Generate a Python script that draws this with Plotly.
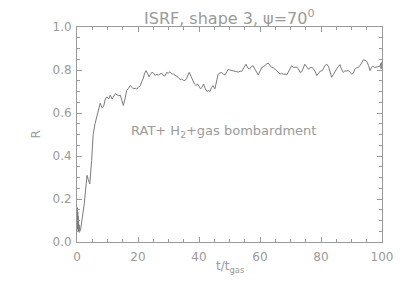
import plotly.graph_objects as go

# time in units of t_gas
t_vals = [0.0, 0.05, 0.1, 0.15, 0.2, 0.25, 0.3, 0.35, 0.4, 0.5, 0.6, 0.7, 0.8, 1.2, 1.8, 2.4, 3.0, 3.3, 3.7, 4.2,
          4.8, 5.3, 5.9, 6.4, 7.0, 7.6, 8.2, 8.7, 9.3, 9.8, 10.4, 10.9, 11.5, 12.0, 12.6, 13.1, 13.7, 14.2, 14.7, 15.2,
          15.8, 16.3, 16.9, 17.4, 18.0, 18.5, 19.1, 19.6, 20.2, 20.7, 21.2, 21.7, 22.2, 22.6, 23.1, 23.6, 24.1, 24.6,
          25.1, 25.6, 26.2, 26.7, 27.2, 27.8, 28.3, 28.8, 29.4, 29.9, 30.5, 31.0, 31.6, 32.1, 32.7, 33.2, 33.8, 34.3,
          34.9, 35.4, 35.9, 36.4, 36.8, 37.4, 37.9, 38.5, 39.0, 39.5, 40.0, 40.5, 41.0, 41.5, 42.0, 42.6, 43.1, 43.6,
          44.1, 44.6, 45.2, 45.7, 46.3, 46.8, 47.4, 48.0, 48.5, 49.1, 49.6, 50.1, 50.7, 51.3, 51.8, 52.4, 52.9, 53.5,
          54.0, 54.5, 55.0, 55.4, 56.0, 56.5, 57.1, 57.7, 58.3, 58.9, 59.4, 60.0, 60.6, 61.1, 61.6, 62.2, 62.7, 63.3,
          63.8, 64.4, 64.9, 65.5, 66.0, 66.6, 67.1, 67.6, 68.2, 68.8, 69.3, 69.8, 70.4, 70.9, 71.5, 72.0, 72.6, 73.1,
          73.7, 74.2, 74.7, 75.3, 75.8, 76.4, 77.0, 77.5, 78.0, 78.6, 79.2, 79.8, 80.4, 80.9, 81.4, 81.9, 82.5, 83.0,
          83.5, 84.1, 84.6, 85.1, 85.6, 86.2, 86.7, 87.3, 87.8, 88.4, 89.0, 89.5, 90.1, 90.6, 91.1, 91.7, 92.2, 92.8,
          93.3, 93.9, 94.5, 95.0, 95.6, 96.1, 96.5, 96.9, 97.5, 98.0, 98.6, 99.3, 99.6, 99.7, 99.8, 99.9, 100.0]

# alignment measure R
r_vals = [0.10, 0.16, 0.07, 0.15, 0.06, 0.14, 0.06, 0.12, 0.05, 0.10, 0.05, 0.08, 0.045, 0.06, 0.11, 0.18, 0.27, 0.31, 0.29, 0.27,
          0.38, 0.50, 0.55, 0.58, 0.62, 0.645, 0.625, 0.63, 0.665, 0.675, 0.665, 0.683, 0.665, 0.675, 0.69, 0.685, 0.68, 0.683, 0.66, 0.635,
          0.67, 0.705, 0.715, 0.728, 0.72, 0.712, 0.715, 0.712, 0.72, 0.725, 0.745, 0.76, 0.785, 0.797, 0.785, 0.768, 0.78, 0.79,
          0.785, 0.775, 0.78, 0.776, 0.781, 0.785, 0.774, 0.772, 0.789, 0.785, 0.792, 0.783, 0.781, 0.776, 0.774, 0.766, 0.755, 0.758,
          0.752, 0.751, 0.76, 0.775, 0.789, 0.77, 0.751, 0.735, 0.728, 0.735, 0.725, 0.712, 0.72, 0.735, 0.715, 0.700, 0.705, 0.700,
          0.718, 0.728, 0.712, 0.74, 0.781, 0.786, 0.789, 0.78, 0.777, 0.79, 0.804, 0.80, 0.797, 0.795, 0.793, 0.792, 0.79, 0.795,
          0.793, 0.805, 0.82, 0.827, 0.81, 0.804, 0.815, 0.82, 0.805, 0.785, 0.777, 0.795, 0.812, 0.815, 0.822, 0.828, 0.832, 0.82,
          0.812, 0.81, 0.805, 0.795, 0.79, 0.781, 0.785, 0.78, 0.781, 0.778, 0.79, 0.805, 0.82, 0.812, 0.815, 0.814, 0.805, 0.789,
          0.792, 0.81, 0.827, 0.815, 0.804, 0.81, 0.812, 0.806, 0.795, 0.774, 0.785, 0.795, 0.797, 0.81, 0.822, 0.827, 0.815, 0.79,
          0.766, 0.78, 0.795, 0.804, 0.815, 0.825, 0.805, 0.789, 0.795, 0.797, 0.797, 0.789, 0.781, 0.785, 0.804, 0.81, 0.812, 0.82,
          0.835, 0.847, 0.845, 0.84, 0.82, 0.797, 0.81, 0.818, 0.812, 0.812, 0.815, 0.817, 0.83, 0.805, 0.835, 0.81, 0.825]

x_ticks = [0, 20, 40, 60, 80, 100]
y_ticks = [0.0, 0.2, 0.4, 0.6, 0.8, 1.0]
y_tick_labels = ["0.0", "0.2", "0.4", "0.6", "0.8", "1.0"]

GREY = "#9a9a9a"
FONT = "DejaVu Sans"

fig = go.Figure()
fig.add_trace(go.Scatter(x=t_vals, y=r_vals, mode="lines",
                         line=dict(color="#7a7a7a", width=1), showlegend=False))

axis_common = dict(showline=True, linecolor=GREY, linewidth=1, mirror="ticks",
                   ticks="inside", ticklen=5, tickcolor=GREY, tickwidth=1,
                   showgrid=False, zeroline=False,
                   tickfont=dict(family=FONT, size=12, color=GREY))

fig.update_xaxes(range=[0, 100], tickvals=x_ticks,
                 minor=dict(ticks="inside", ticklen=3, tickcolor=GREY, dtick=5, showgrid=False),
                 ticklabelstandoff=4, **axis_common)
fig.update_yaxes(range=[0, 1.0], tickvals=y_ticks, ticktext=y_tick_labels,
                 minor=dict(ticks="inside", ticklen=3, tickcolor=GREY, dtick=0.05, showgrid=False),
                 ticklabelstandoff=2, **axis_common)

fig.add_annotation(text="ISRF, shape 3, ψ=70<sup>0</sup>", xref="paper", yref="paper",
                   x=0.5, y=1.0, yshift=10, xanchor="center", yanchor="middle", showarrow=False,
                   font=dict(family=FONT, size=16, color=GREY))
fig.add_annotation(text="t/t<sub>gas</sub>", xref="paper", yref="paper",
                   x=0.5, y=0, yshift=-25, xanchor="center", yanchor="middle", showarrow=False,
                   font=dict(family=FONT, size=12, color=GREY))
fig.add_annotation(text="R", xref="paper", yref="paper", textangle=-90,
                   x=0, xshift=-42, y=0.5, xanchor="center", yanchor="middle", showarrow=False,
                   font=dict(family=FONT, size=12, color=GREY))
fig.add_annotation(text="RAT+ H<sub>2</sub>+gas bombardment", xref="x", yref="y",
                   x=48, y=0.515, xanchor="center", yanchor="middle", showarrow=False,
                   font=dict(family=FONT, size=13, color=GREY))

# the page is shown with an 8 px offset, so the margins are shifted accordingly
fig.update_layout(width=407, height=291, margin=dict(l=69, r=33, t=16, b=57),
                  paper_bgcolor="white", plot_bgcolor="white")

fig.write_html("out.html")
